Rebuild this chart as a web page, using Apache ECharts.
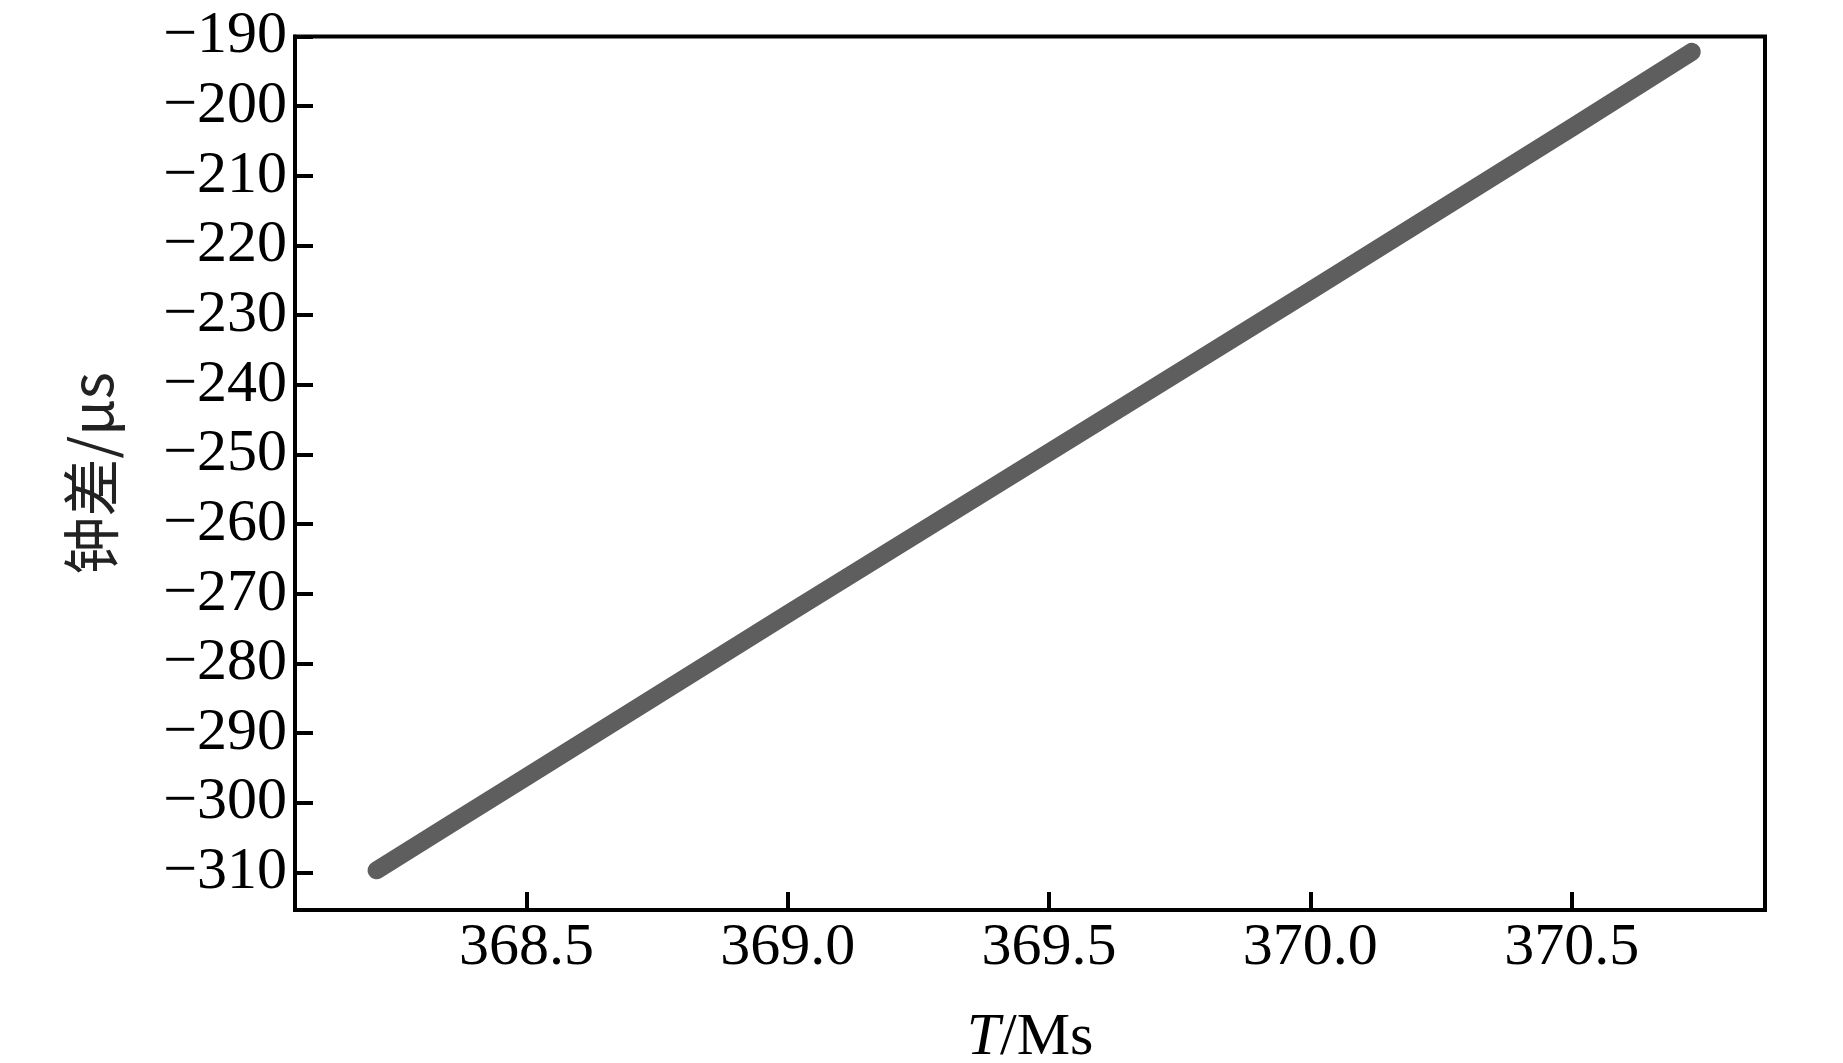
<!DOCTYPE html>
<html>
<head>
<meta charset="utf-8">
<script src="https://cdn.jsdelivr.net/npm/echarts@6/dist/echarts.min.js"></script>
<style>
html,body{margin:0;padding:0;background:#fff;}
#chart{width:1843px;height:1063px;}
</style>
</head>
<body>
<div id="chart"></div>
<script>
// T (Ms) and clock offset (µs)
const timeMs = [368.213, 368.35, 368.5, 368.75, 369.0, 369.25, 369.5, 369.75, 370.0, 370.25, 370.5, 370.73];
const clockDiff = [-309.7, -303.3, -296.3, -284.6, -272.9, -261.3, -249.7, -238.1, -226.5, -214.8, -203.1, -192.2];
const xTicks = [368.5, 369.0, 369.5, 370.0, 370.5];
const yTicks = [-190, -200, -210, -220, -230, -240, -250, -260, -270, -280, -290, -300, -310];

const points = timeMs.map((t, i) => [t, clockDiff[i]]);
const serif = '"Liberation Serif", "Times New Roman", serif';

const chart = echarts.init(document.getElementById('chart'));
chart.setOption({
  backgroundColor: '#fff',
  animation: false,
  grid: {
    left: 295, right: 78, top: 36.5, bottom: 153,
    containLabel: false,
    outerBoundsMode: 'none',
    show: true, borderColor: '#000', borderWidth: 4
  },
  xAxis: {
    type: 'value',
    min: 368.057, max: 370.870,
    name: '{i|T}/Ms',
    nameLocation: 'middle',
    nameGap: 98,
    nameTextStyle: {
      fontFamily: serif, fontSize: 60, color: '#000',
      rich: { i: { fontFamily: serif, fontSize: 60, fontStyle: 'italic', color: '#000' } }
    },
    axisLine: { show: true, lineStyle: { color: '#000', width: 4 } },
    axisTick: { show: true, inside: true, length: 18, customValues: xTicks, lineStyle: { color: '#000', width: 4 } },
    axisLabel: {
      customValues: xTicks, margin: 8,
      fontFamily: serif, fontSize: 60, color: '#000',
      formatter: v => v.toFixed(1)
    },
    splitLine: { show: false }
  },
  yAxis: {
    type: 'value',
    min: -315.4, max: -190,
    name: '钟差/μs',
    nameLocation: 'middle',
    nameRotate: 90,
    nameGap: 175,
    nameTextStyle: { fontFamily: '"Noto Sans CJK SC", ' + serif, fontSize: 58, color: '#222' },
    axisLine: { show: true, lineStyle: { color: '#000', width: 4 } },
    axisTick: { show: true, inside: true, length: 18, customValues: yTicks, lineStyle: { color: '#000', width: 4 } },
    axisLabel: {
      customValues: yTicks, margin: 8,
      fontFamily: serif, fontSize: 60, color: '#000',
      formatter: v => String(v).replace('-', '\u2212')
    },
    splitLine: { show: false }
  },
  series: [{
    type: 'line',
    data: points,
    showSymbol: false,
    symbol: 'none',
    lineStyle: { color: '#5e5e5e', width: 18, cap: 'round', join: 'round' }
  }]
});
</script>
</body>
</html>
